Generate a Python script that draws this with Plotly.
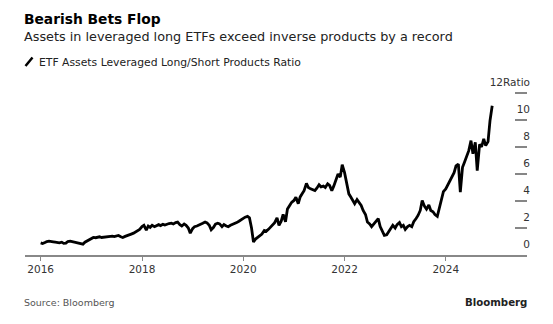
import pandas as pd
import plotly.graph_objects as go

# Semi-monthly readings of the leveraged long / inverse ETF asset ratio
ratio_2016 = [0.90, 0.85, 0.92, 1.00, 1.02, 0.98, 0.97, 0.95, 0.93, 0.90, 0.95, 0.86,
              0.88, 1.00, 1.02, 0.98, 0.95, 0.90, 0.88, 0.84, 0.80, 0.95, 1.05, 1.15]
ratio_2017 = [1.25, 1.30, 1.28, 1.33, 1.35, 1.30, 1.33, 1.36, 1.34, 1.38, 1.40, 1.37,
              1.43, 1.45, 1.35, 1.30, 1.38, 1.45, 1.48, 1.55, 1.62, 1.70, 1.80, 1.90]
ratio_2018 = [2.10, 2.20, 1.85, 2.15, 2.05, 2.20, 2.10, 2.15, 2.25, 2.18, 2.27, 2.22,
              2.30, 2.33, 2.36, 2.30, 2.40, 2.44, 2.25, 2.15, 2.30, 2.20, 2.00, 1.62]
ratio_2019 = [1.95, 2.10, 2.15, 2.20, 2.30, 2.35, 2.44, 2.38, 2.20, 1.87, 2.05, 2.29,
              2.35, 2.30, 2.10, 2.25, 2.15, 2.10, 2.20, 2.25, 2.30, 2.40, 2.50, 2.60]
ratio_2020 = [2.70, 2.80, 2.86, 2.75, 2.00, 0.96, 1.20, 1.33, 1.45, 1.55, 1.82, 1.75,
              1.90, 2.05, 2.20, 2.40, 2.76, 2.20, 2.50, 3.00, 2.46, 3.40, 3.67, 3.90]
ratio_2021 = [4.04, 4.28, 3.80, 4.30, 4.53, 4.77, 5.31, 5.00, 4.90, 4.85, 4.77, 4.95,
              5.20, 5.05, 5.10, 5.00, 5.27, 5.15, 4.77, 5.10, 5.64, 6.00, 5.77, 6.69]
ratio_2022 = [6.10, 5.40, 4.53, 4.30, 4.00, 3.80, 4.10, 3.90, 3.67, 3.30, 3.00, 2.44,
              2.30, 2.10, 2.30, 2.50, 2.69, 2.10, 1.80, 1.45, 1.50, 1.70, 2.00, 2.20]
ratio_2023 = [2.00, 2.25, 2.40, 2.10, 2.20, 1.90, 2.10, 2.20, 2.10, 2.46, 2.70, 2.93,
              3.30, 4.04, 3.60, 3.40, 3.70, 3.30, 3.20, 3.00, 2.86, 3.50, 4.16, 4.70]
ratio_2024 = [4.90, 5.20, 5.50, 5.90, 6.10, 6.60, 6.74, 4.65, 6.50, 6.87, 7.30, 7.73,
              8.47, 7.50, 8.34, 6.25, 8.20, 8.00, 8.60, 8.10, 8.40, 9.94, 11.05]

ratio = (ratio_2016 + ratio_2017 + ratio_2018 + ratio_2019 + ratio_2020
         + ratio_2021 + ratio_2022 + ratio_2023 + ratio_2024)
dates = pd.date_range("2016-01-01", periods=len(ratio), freq="SMS")

year_ticks = ["2016", "2018", "2020", "2022", "2024"]
y_ticks = [0, 2, 4, 6, 8, 10, 12]
y_tick_text = ["0", "2", "4", "6", "8", "10", "12Ratio"]

W, H = 553, 324
L, R, T, B = 25, 26, 75, 69
PW, PH = W - L - R, H - T - B
Y_TOP = 12 * PH / 162  # keeps 13.5 px per unit with 0 on the baseline


def px(x):
    return (x - L) / PW


def py(y):
    return (H - B - y) / PH


FONT = "DejaVu Sans, Verdana, sans-serif"

fig = go.Figure()
fig.add_trace(go.Scatter(
    x=dates, y=ratio, mode="lines",
    line=dict(color="#000000", width=2.8),
    name="ETF Assets Leveraged Long/Short Products Ratio",
    showlegend=False,
))
# narrow companion subplot at the right edge holding the short value ticks
fig.add_trace(go.Scatter(
    x=[0.5] * (len(y_ticks) - 1), y=y_ticks[1:], xaxis="x2", yaxis="y2",
    mode="markers",
    marker=dict(symbol="line-ew", size=12, line=dict(width=1.3, color="#444444")),
    showlegend=False, hoverinfo="skip",
))

fig.update_layout(
    width=W, height=H,
    margin=dict(l=L, r=R, t=T, b=B),
    paper_bgcolor="white", plot_bgcolor="rgba(0,0,0,0)",
    font=dict(family=FONT, color="#333333", size=10.5),
    showlegend=False,
    xaxis=dict(
        type="date", domain=[0, 1],
        range=["2015-09-10", "2025-08-09"],
        tickvals=[f"{y}-01-01" for y in year_ticks],
        ticktext=year_ticks,
        ticks="outside", ticklen=4, tickwidth=1, tickcolor="#888888",
        showline=True, linecolor="#888888", linewidth=1.5,
        showgrid=False, zeroline=False,
        tickfont=dict(size=10.5, color="#333333"),
    ),
    yaxis=dict(
        range=[0, Y_TOP],
        anchor="free", position=1.0, side="left",
        tickvals=y_ticks, ticktext=y_tick_text,
        ticks="", ticklabelstandoff=-3, ticklabelshift=-11,
        showgrid=False, zeroline=False, showline=False,
        tickfont=dict(size=10.5, color="#333333"),
    ),
    xaxis2=dict(domain=[px(515), 1.0], anchor="y2", range=[0, 1],
                showticklabels=False, ticks="", showgrid=False,
                zeroline=False, showline=False),
    yaxis2=dict(
        range=[0, Y_TOP], anchor="x2", domain=[0, 1],
        showticklabels=False, ticks="", showgrid=False,
        zeroline=False, showline=False,
    ),
)

# Headline, subtitle, legend key and footer
fig.add_annotation(x=px(22), y=py(19), xref="paper", yref="paper", xanchor="left", yanchor="middle",
                   text="<b>Bearish Bets Flop</b>", showarrow=False,
                   font=dict(family=FONT, size=13.8, color="#000000"))
fig.add_annotation(x=px(22), y=py(36), xref="paper", yref="paper", xanchor="left", yanchor="middle",
                   text="Assets in leveraged long ETFs exceed inverse products by a record", showarrow=False,
                   font=dict(family=FONT, size=12.8, color="#222222"))
fig.add_shape(type="line", xref="paper", yref="paper",
              x0=px(25.5), y0=py(66), x1=px(32.5), y1=py(57.5),
              line=dict(color="#000000", width=2.5))
fig.add_annotation(x=px(37), y=py(62), xref="paper", yref="paper", xanchor="left", yanchor="middle",
                   text="ETF Assets Leveraged Long/Short Products Ratio", showarrow=False,
                   font=dict(family=FONT, size=10.8, color="#222222"))
fig.add_annotation(x=px(22), y=py(302), xref="paper", yref="paper", xanchor="left", yanchor="middle",
                   text="Source: Bloomberg", showarrow=False,
                   font=dict(family=FONT, size=9.5, color="#555555"))
fig.add_annotation(x=px(529), y=py(302), xref="paper", yref="paper", xanchor="right", yanchor="middle",
                   text="<b>Bloomberg</b>", showarrow=False,
                   font=dict(family=FONT, size=10.2, color="#222222"))

fig.write_html("out.html")
